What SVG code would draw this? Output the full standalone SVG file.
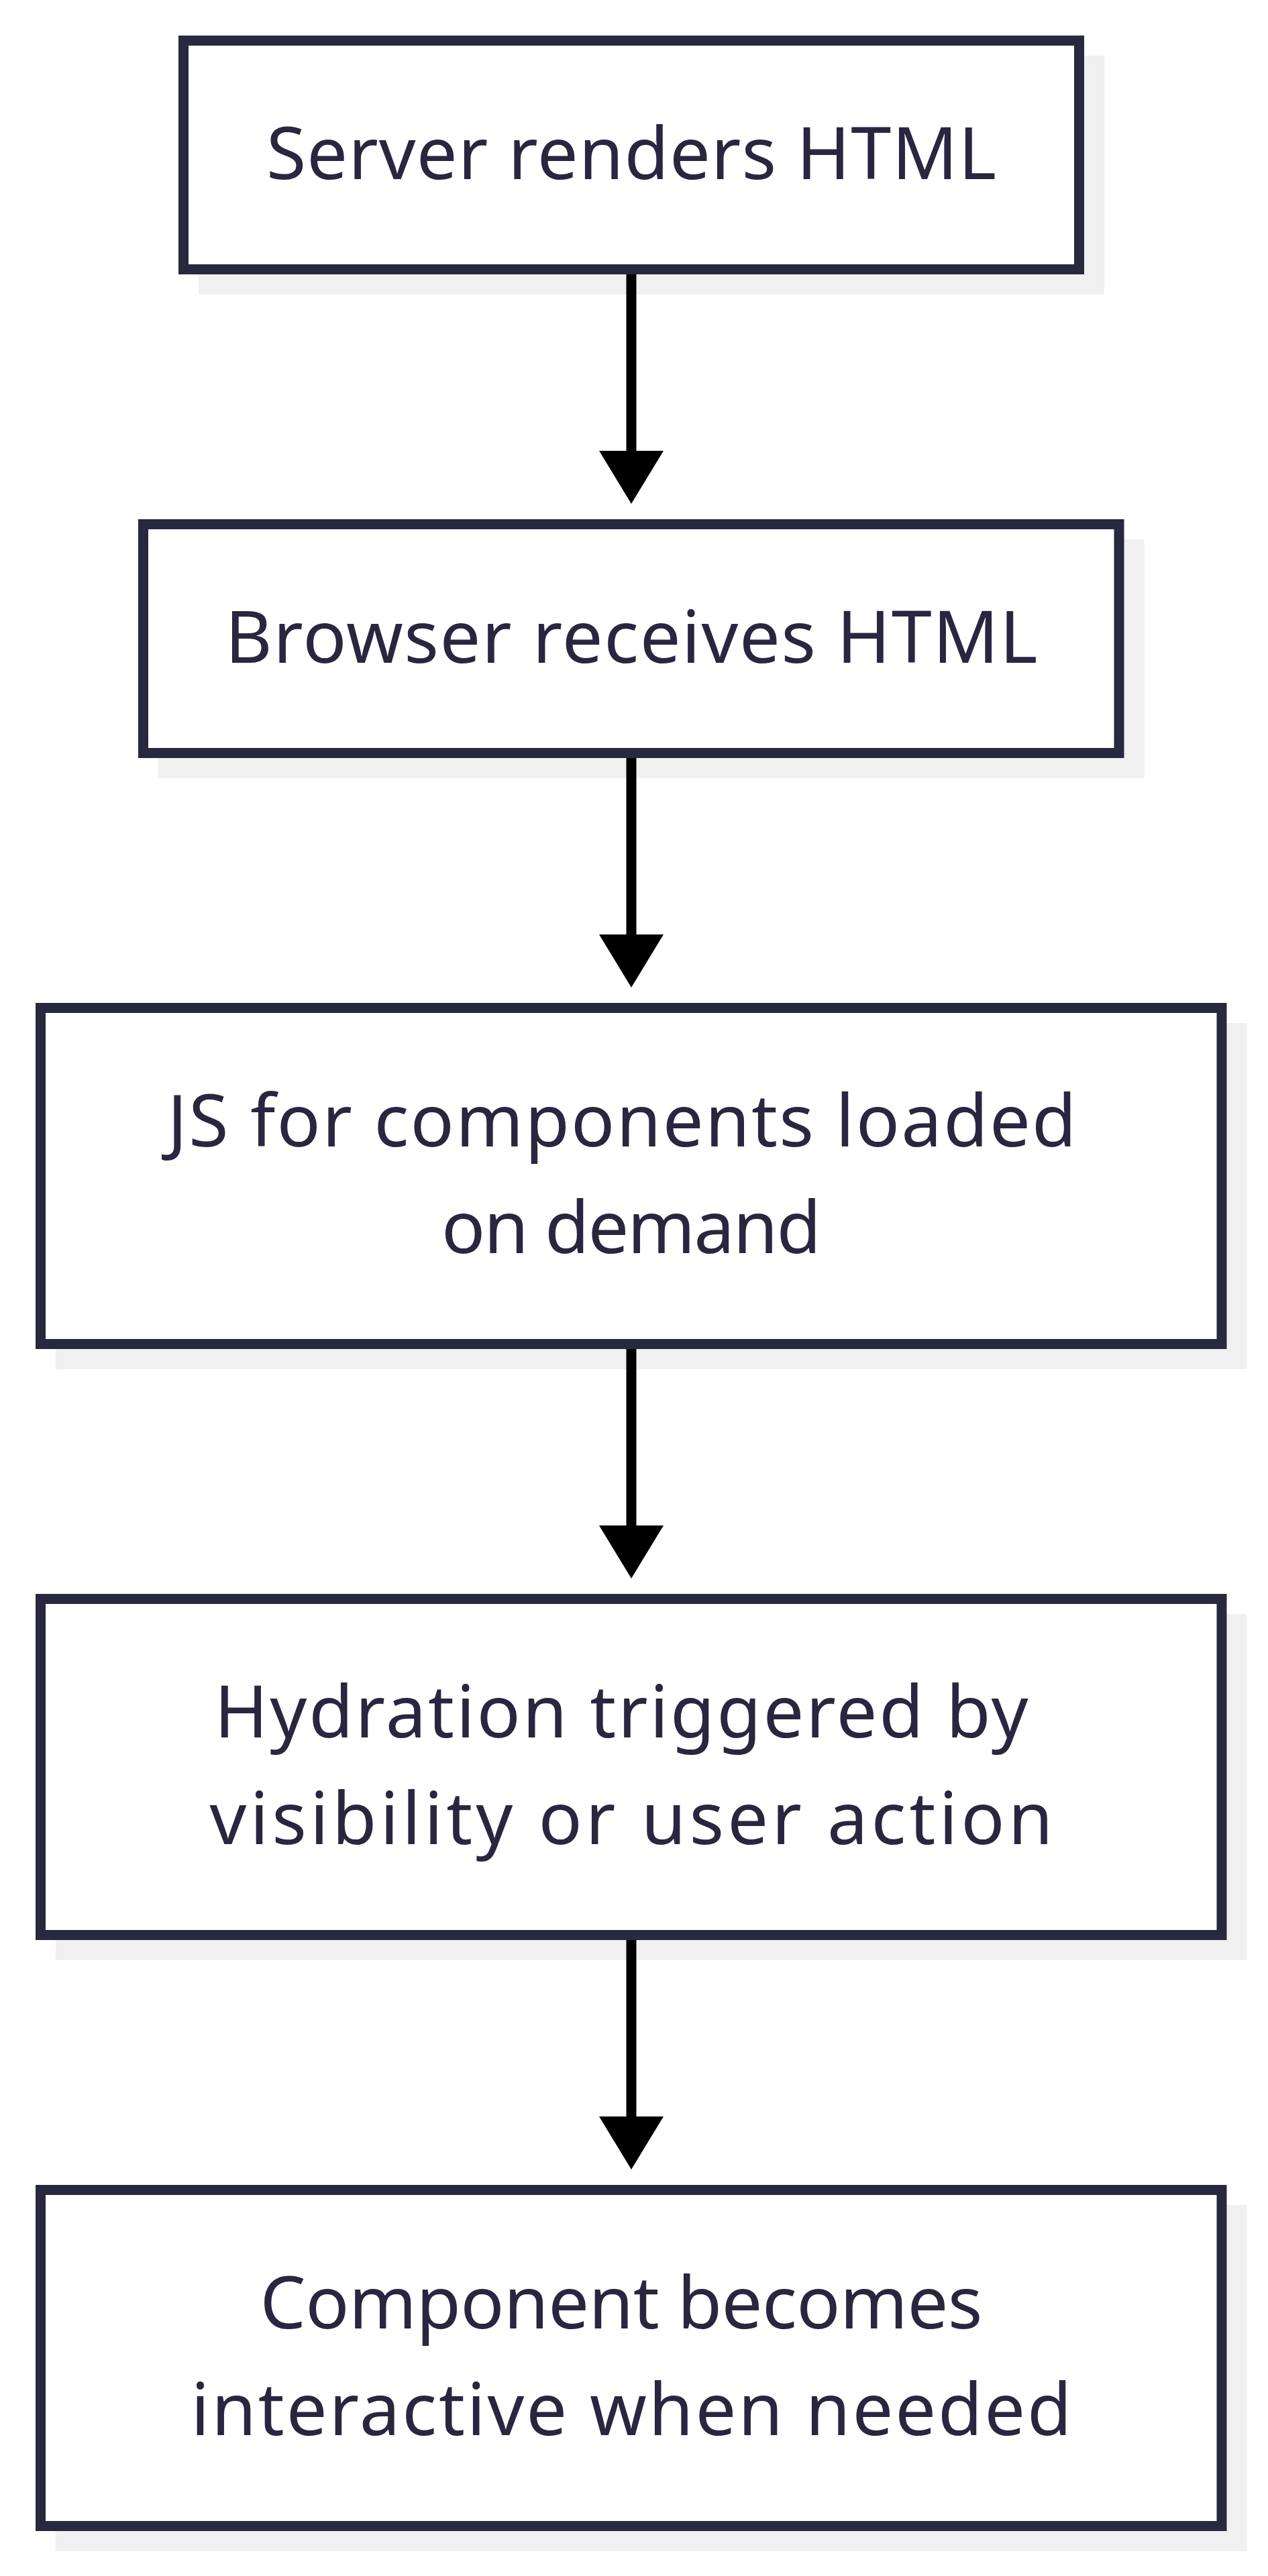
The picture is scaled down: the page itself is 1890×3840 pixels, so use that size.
<svg xmlns="http://www.w3.org/2000/svg" width="1890" height="3840" viewBox="0 0 1890 3840">
  <style>
    .shadow { fill: #f0f0f0; }
    .box { fill: #ffffff; stroke: #28283e; stroke-width: 15; }
    .label { font-family: "Noto Sans", "DejaVu Sans", sans-serif; font-size: 108px; fill: #29263f; text-anchor: middle; }
    .edge { stroke: #000000; stroke-width: 15; fill: none; }
  </style>
  <defs>
    <marker id="arrow" viewBox="0 0 79 96" refX="0" refY="48" markerWidth="79" markerHeight="96" markerUnits="userSpaceOnUse" orient="auto">
      <path d="M0,0 L79,48 L0,96 Z" fill="#000000"/>
    </marker>
  </defs>
  <rect width="1890" height="3840" fill="#ffffff"/>

  <g id="node-server">
    <rect class="shadow" x="296" y="83" width="1350" height="356"/>
    <rect class="box" x="273.5" y="60.5" width="1335" height="341"/>
    <text class="label" x="941" y="267" textLength="1088">Server renders HTML</text>
  </g>

  <g id="node-browser">
    <rect class="shadow" x="236" y="804" width="1469.5" height="356"/>
    <rect class="box" x="213.5" y="781.5" width="1454.5" height="341"/>
    <text class="label" x="941" y="988" textLength="1211">Browser receives HTML</text>
  </g>

  <g id="node-js">
    <rect class="shadow" x="83" y="1525" width="1775.5" height="516"/>
    <rect class="box" x="60.5" y="1502.5" width="1760.5" height="501"/>
    <text class="label" x="927" y="1709" textLength="1355">JS for components loaded</text>
    <text class="label" x="941" y="1868" textLength="566">on demand</text>
  </g>

  <g id="node-hydration">
    <rect class="shadow" x="83" y="2406" width="1775.5" height="516"/>
    <rect class="box" x="60.5" y="2383.5" width="1760.5" height="501"/>
    <text class="label" x="926" y="2590" textLength="1213">Hydration triggered by</text>
    <text class="label" x="941" y="2749" textLength="1257">visibility or user action</text>
  </g>

  <g id="node-component">
    <rect class="shadow" x="83" y="3287" width="1775.5" height="516"/>
    <rect class="box" x="60.5" y="3264.5" width="1760.5" height="501"/>
    <text class="label" x="926" y="3471" textLength="1077">Component becomes</text>
    <text class="label" x="941" y="3630" textLength="1313">interactive when needed</text>
  </g>

  <g id="connectors">
    <line class="edge" x1="941" y1="409" x2="941" y2="672" marker-end="url(#arrow)"/>
    <line class="edge" x1="941" y1="1130" x2="941" y2="1393" marker-end="url(#arrow)"/>
    <line class="edge" x1="941" y1="2011" x2="941" y2="2274" marker-end="url(#arrow)"/>
    <line class="edge" x1="941" y1="2892" x2="941" y2="3155" marker-end="url(#arrow)"/>
  </g>
</svg>
